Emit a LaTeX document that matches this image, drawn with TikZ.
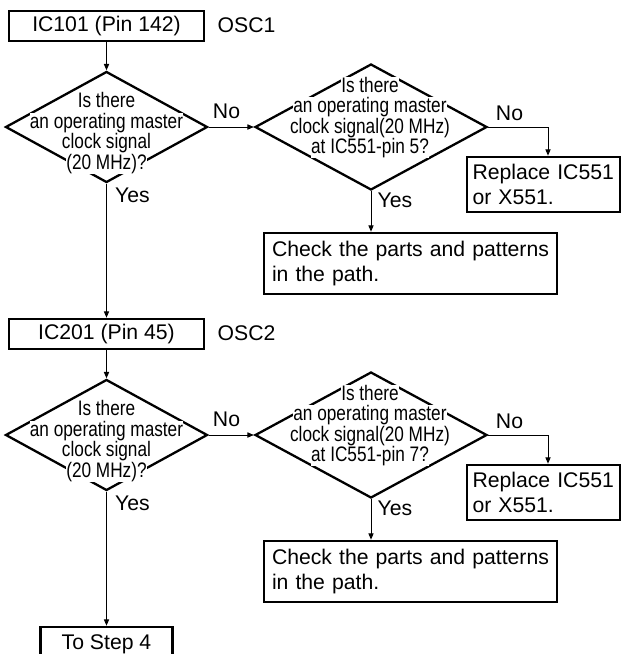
\documentclass[tikz,border=0pt]{standalone}
\usepackage{fontspec}
\setmainfont{Liberation Sans}
\newfontfamily\narrowsans[FakeStretch=0.82]{Liberation Sans}
\usepackage{xcolor}
\usepackage{tikz}
\usetikzlibrary{shapes.geometric, arrows.meta}

\newcommand{\qfont}{\narrowsans\fontsize{10.5}{10.25}\selectfont\lineskiplimit=-5pt\relax}
\newcommand{\qline}[1]{{\setlength{\fboxsep}{0pt}\colorbox{white}{#1}}}

\begin{document}
\begin{tikzpicture}[x=0.5pt, y=-0.5pt,
  box/.style={draw, line width=1.3pt, inner sep=0pt, font=\fontsize{10.6}{12.75}\selectfont},
  textbox/.style={box, align=left, inner xsep=4pt},
  decision/.style={draw, diamond, line width=1.15pt, inner sep=0pt},
  question/.style={align=center, inner sep=0pt, font=\qfont},
  answer/.style={anchor=base, inner sep=0pt, font=\fontsize{10.6}{12.75}\selectfont},
  arr/.style={line width=0.5pt, -{Triangle[length=3.2pt, width=2.6pt]}}]
\path[use as bounding box, fill=white] (0,0) rectangle (622,654);
\begin{scope}[yshift=0pt]
  % OSC1 check
  \node[box, minimum width=97.5pt, minimum height=15pt] (ic101) at (106.5,26) {IC101 (Pin 142)};
  \node[answer] (osc1) at (246.5,32) {OSC1};
  \node[decision, minimum width=101pt, minimum height=55.5pt] (d1) at (106.5,127) {};
  \node[question] (q1) at (106.5,133.3) {\qline{Is there}\\\qline{an operating master}\\\qline{clock signal}\\\qline{(20 MHz)?}};
  \node[decision, minimum width=116pt, minimum height=63pt] (d2) at (371,127) {};
  \node[question] (q2) at (370,117.5) {\qline{Is there}\\\qline{an operating master}\\\qline{clock signal(20 MHz)}\\\qline{at IC551-pin 5?}};
  \node[textbox, text width=71pt, inner xsep=2.75pt, minimum height=27.5pt] (rep1) at (543.5,184.5) {Replace IC551\\or X551.};
  \node[textbox, text width=138.5pt, minimum height=30.5pt] (chk1) at (410.5,263.5) {Check the parts and patterns\\in the path.};
  % Answers
  \node[answer] (no1) at (226.5,118) {No};
  \node[answer] (no2) at (509.5,120) {No};
  \node[answer] (yes1) at (132.5,202) {Yes};
  \node[answer] (yes2) at (395,207) {Yes};
  \draw[arr] (ic101.south) -- (d1.north);
  \draw[arr] (d1.east) -- (d2.west);
  \draw[arr] (d2.east) -| ([xshift=2.25pt]rep1.north);
  \draw[arr] (d2.south) -- (d2.south |- chk1.north);
\end{scope}
\begin{scope}[yshift=-154pt]
  % OSC2 check
  \node[box, minimum width=97.5pt, minimum height=15pt] (ic201) at (106.5,26) {IC201 (Pin 45)};
  \node[answer] (osc2) at (246.5,32) {OSC2};
  \node[decision, minimum width=101pt, minimum height=55.5pt] (d3) at (106.5,127) {};
  \node[question] (q3) at (106.5,133.3) {\qline{Is there}\\\qline{an operating master}\\\qline{clock signal}\\\qline{(20 MHz)?}};
  \node[decision, minimum width=116pt, minimum height=63pt] (d4) at (371,127) {};
  \node[question] (q4) at (370,117.5) {\qline{Is there}\\\qline{an operating master}\\\qline{clock signal(20 MHz)}\\\qline{at IC551-pin 7?}};
  \node[textbox, text width=71pt, inner xsep=2.75pt, minimum height=27.5pt] (rep2) at (543.5,184.5) {Replace IC551\\or X551.};
  \node[textbox, text width=138.5pt, minimum height=30.5pt] (chk2) at (410.5,263.5) {Check the parts and patterns\\in the path.};
  % Answers
  \node[answer] (no3) at (226.5,118) {No};
  \node[answer] (no4) at (509.5,120) {No};
  \node[answer] (yes3) at (132.5,202) {Yes};
  \node[answer] (yes4) at (395,207) {Yes};
  \draw[arr] (ic201.south) -- (d3.north);
  \draw[arr] (d3.east) -- (d4.west);
  \draw[arr] (d4.east) -| ([xshift=2.25pt]rep2.north);
  \draw[arr] (d4.south) -- (d4.south |- chk2.north);
\end{scope}
\node[box, minimum width=66pt, minimum height=17pt] (tostep) at (106.5,644) {To Step 4};
\draw[arr] (d1.south) -- (ic201.north);
\draw[arr] (d3.south) -- (tostep.north);
\end{tikzpicture}
\end{document}
